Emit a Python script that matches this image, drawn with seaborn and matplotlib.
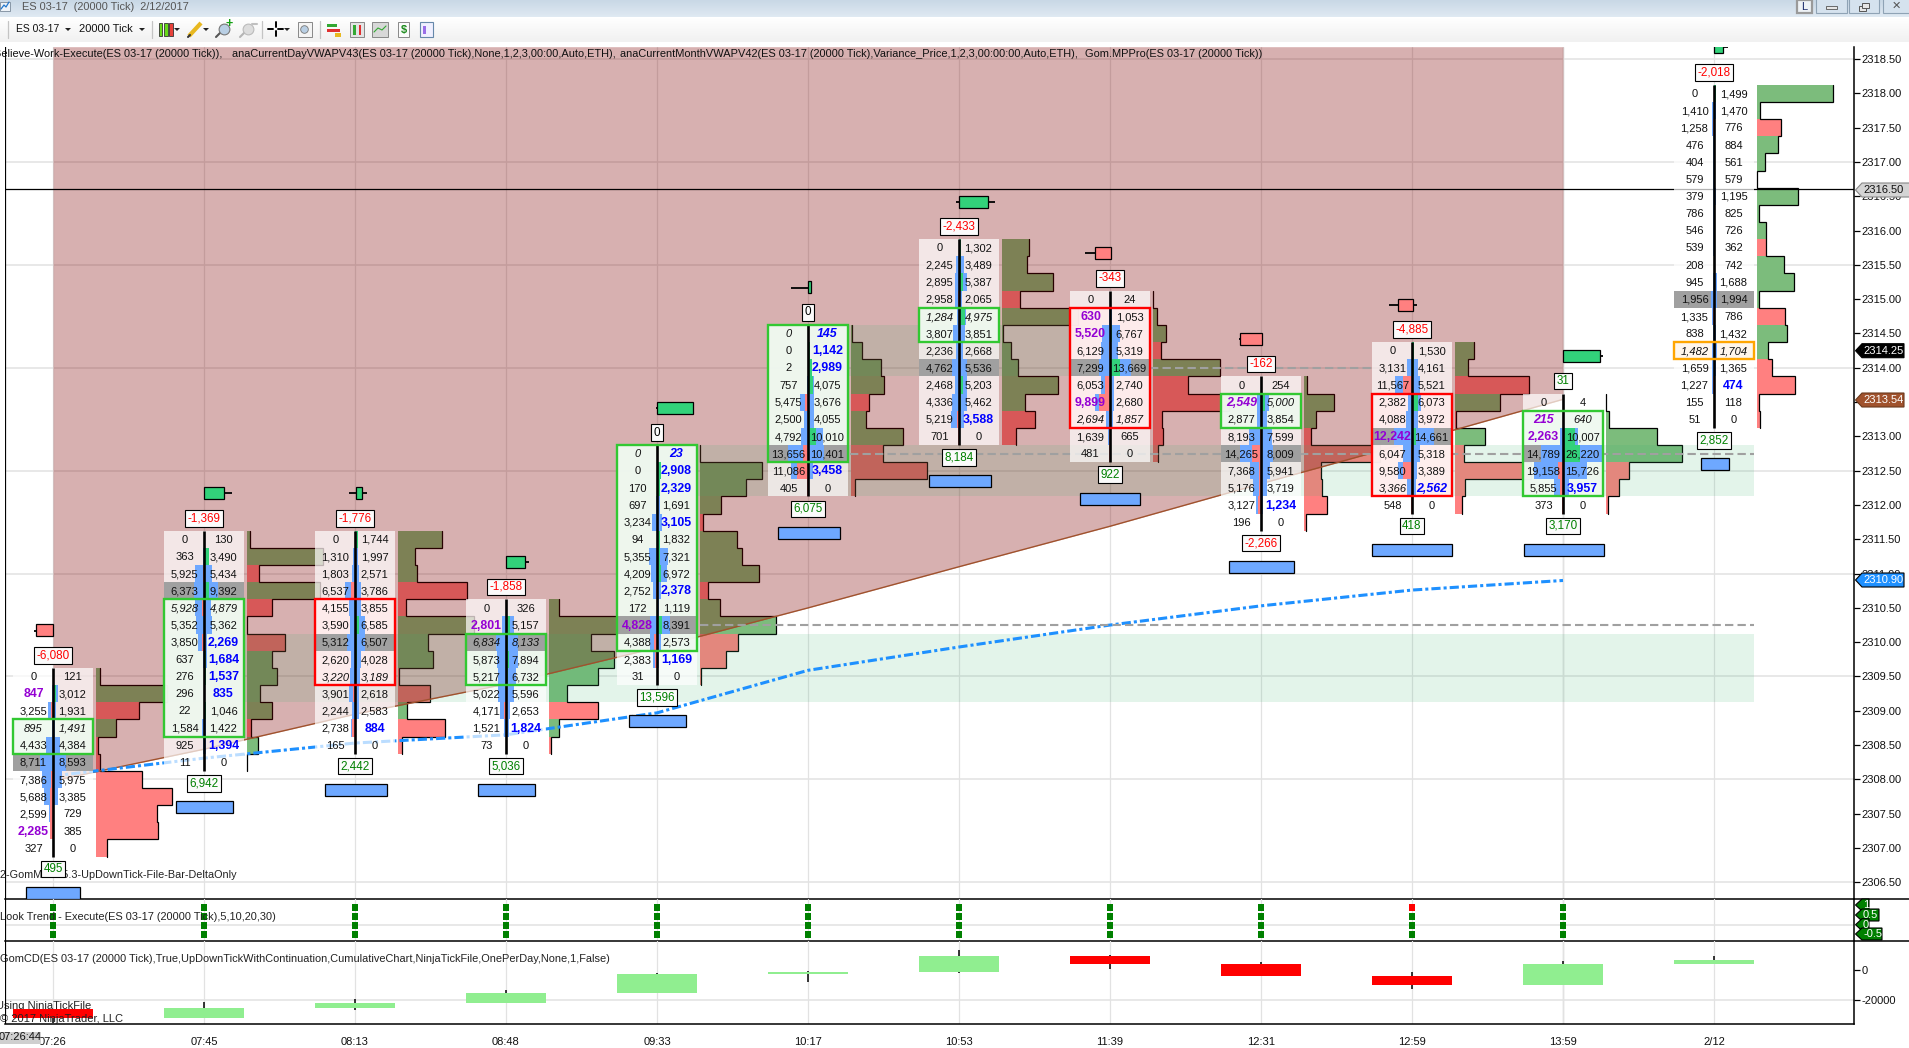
import numpy as np
import pandas as pd
import seaborn as sns
from matplotlib import pyplot as plt
from matplotlib.colors import LinearSegmentedColormap
from matplotlib.patches import Polygon, Rectangle

W, H = 1909, 1048

# bid / ask footprint rows of each 20000 tick bar, top row first
bar0_bid = [0, 847, 3255, 895, 4433, 8711, 7386, 5688, 2599, 2285, 327]
bar0_ask = [121, 3012, 1931, 1491, 4384, 8593, 5975, 3385, 729, 385, 0]
bar1_bid = [0, 363, 5925, 6373, 5928, 5352, 3850, 637, 276, 296, 22, 1584, 925, 11]
bar1_ask = [130, 3490, 5434, 9392, 4879, 5362, 2269, 1684, 1537, 835, 1046, 1422, 1394, 0]
bar2_bid = [0, 1310, 1803, 6537, 4155, 3590, 5312, 2620, 3220, 3901, 2244, 2738, 165]
bar2_ask = [1744, 1997, 2571, 3786, 3855, 6585, 6507, 4028, 3189, 2618, 2583, 884, 0]
bar3_bid = [0, 2801, 6834, 5873, 5217, 5022, 4171, 1521, 73]
bar3_ask = [326, 5157, 8133, 7894, 6732, 5596, 2653, 1824, 0]
bar4_bid = [0, 0, 170, 697, 3234, 94, 5355, 4209, 2752, 172, 4828, 4388, 2383, 31]
bar4_ask = [23, 2908, 2329, 1691, 3105, 1832, 7321, 6972, 2378, 1119, 8391, 2573, 1169, 0]
bar5_bid = [0, 0, 2, 757, 5475, 2500, 4792, 13656, 11086, 405]
bar5_ask = [145, 1142, 2989, 4075, 3676, 4055, 10010, 10401, 3458, 0]
bar6_bid = [0, 2245, 2895, 2958, 1284, 3807, 2236, 4762, 2468, 4336, 5219, 701]
bar6_ask = [1302, 3489, 5387, 2065, 4975, 3851, 2668, 5536, 5203, 5462, 3588, 0]
bar7_bid = [0, 630, 5520, 6129, 7299, 6053, 9899, 2694, 1639, 481]
bar7_ask = [24, 1053, 6767, 5319, 13669, 2740, 2680, 1857, 665, 0]
bar8_bid = [0, 2549, 2877, 8193, 14265, 7368, 5176, 3127, 196]
bar8_ask = [254, 5000, 3854, 7599, 8009, 5941, 3719, 1234, 0]
bar9_bid = [0, 3131, 11567, 2382, 4088, 12242, 6047, 9580, 3366, 548]
bar9_ask = [1530, 4161, 5521, 6073, 3972, 14661, 5318, 3389, 2562, 0]
bar10_bid = [0, 215, 2263, 14789, 19158, 5855, 373]
bar10_ask = [4, 640, 10007, 26220, 15726, 3957, 0]
bar11_bid = [0, 1410, 1258, 476, 404, 579, 379, 786, 546, 539, 208, 945, 1956, 1335, 838, 1482, 1659, 1227, 155, 51]
bar11_ask = [1499, 1470, 776, 884, 561, 579, 1195, 825, 726, 362, 742, 1688, 1994, 786, 1432, 1704, 1365, 474, 118, 0]

bids = [bar0_bid, bar1_bid, bar2_bid, bar3_bid, bar4_bid, bar5_bid, bar6_bid, bar7_bid, bar8_bid, bar9_bid, bar10_bid, bar11_bid]
asks = [bar0_ask, bar1_ask, bar2_ask, bar3_ask, bar4_ask, bar5_ask, bar6_ask, bar7_ask, bar8_ask, bar9_ask, bar10_ask, bar11_ask]

top_price = [2309.5, 2311.5, 2311.5, 2310.5, 2312.75, 2314.5, 2315.75, 2315.0, 2313.75, 2314.25, 2313.5, 2318.0]
time_labels = ['07:26', '07:45', '08:13', '08:48', '09:33', '10:17', '10:53', '11:39', '12:31', '12:59', '13:59', '2/12']

poc_row = [5, 3, 6, 2, 10, 7, 7, 4, 4, 5, 3, 12]
italic_row = [3, 4, 8, 2, 0, 0, 4, 7, 1, 8, 1, 15]
box_kind = ['g', 'g', 'r', 'g', 'g', 'g', 'g', 'r', 'g', 'r', 'g', 'o']
box_first = [3, 4, 4, 2, 0, 0, 4, 1, 1, 3, 1, 15]
box_last = [4, 11, 8, 4, 11, 7, 5, 7, 2, 8, 5, 15]
purple_bid = [[1, 9], [], [], [1], [10], [], [], [1, 2, 6], [1], [5], [1, 2], []]
blue_ask = [[], [6, 7, 8, 9, 12], [11], [7], [0, 1, 2, 4, 8, 12], [0, 1, 2, 8], [10], [], [7], [8], [5], [17]]

top_delta = ['-6,080', '-1,369', '-1,776', '-1,858', '0', '0', '-2,433', '-343', '-162', '-4,885', '31', '-2,018']
top_delta_color = ['red', 'red', 'red', 'red', 'black', 'black', 'red', 'red', 'red', 'red', 'green', 'red']
low_delta = ['495', '6,942', '2,442', '5,036', '13,596', '6,075', '8,184', '922', '-2,266', '418', '3,170', '2,852']
low_delta_color = ['green'] * 8 + ['red'] + ['green'] * 3

# small open/close marker above each bar, pixels from the bar centre
marker_up = [False, True, True, True, True, True, True, False, False, False, True, True]
marker_left = [-17, 0, 0.5, 0, 0, 0, 0.3, -14.7, -21.5, -14, 0, 0]
marker_right = [0.5, 20, 7.4, 18.5, 35.7, 3.4, 28.7, 0.7, 0.5, 0.7, 37, 9]
wick_left = [-19, 0, -6, 0, -1, -17, -3, -25, -22.5, -23.3, 0, 0]
wick_right = [0.5, 28, 12, 23, 35.7, 3.4, 36, 0.7, 1, 5, 40, 14]
# blue box under each bar
under_left = [-26.5, -28, -30.5, -28, -28, -30.5, -30.4, -29.6, -31.6, -40, -39.5, -13.3]
under_right = [27.4, 28.6, 31.5, 28.7, 28.7, 31.6, 31.6, 30.4, 32.7, 40, 40.6, 14.7]

vwap = [2308.05, 2308.31, 2308.53, 2308.65, 2308.97, 2309.59, 2309.93, 2310.25, 2310.53, 2310.76, 2310.90]
upper_band = [2307.98, 2308.44, 2308.95, 2309.39, 2309.92, 2310.50, 2311.10, 2311.69, 2312.31, 2312.92, 2313.54]

# cumulative delta candles
cd_open = [-25740, -31680, -25080, -21780, -15180, -2640, -1320, 9240, 3960, -3960, -9900, 3960]
cd_close = [-31680, -25080, -21780, -15180, -2640, -1320, 9240, 3960, -3960, -9900, 3960, 6600]
cd_high = [-25740, -21120, -19140, -13200, -1980, -660, 13200, 9900, 5280, -1320, 5940, 9240]
cd_low = [-35000, -31680, -26400, -21780, -15180, -7920, -1980, 660, -3960, -12540, -9900, 3960]

trend_levels = [1, 0.5, 0, -0.5]
trend_red_top_bar = 9

price_grid = [2318.5, 2317, 2315.5, 2314, 2312.5, 2311, 2309.5, 2308, 2306.5]

FS = 8.0
GREEN_HIST, RED_HIST = '#7cbc7c', '#ff8080'
BLUE_VOL = '#6ea8ff'
GRID = '#e2e2e2'

sns.set_theme(style='white')
plt.rcParams['font.family'] = ['Liberation Sans', 'DejaVu Sans']


def frame(left, top, right, bottom):
    return [left / W, 1 - bottom / H, (right - left) / W, (bottom - top) / H]


def to_bar(px_x):
    return (px_x - 53) / 151


def px(d):
    return d / 151


def y_price(y):
    return 2312 + (505 - y) / 68.6


ROW = 0.25
PX_Y = 1 / 68.6

fig = plt.figure(figsize=(W / 100, H / 100), dpi=100, facecolor='white')
ax = fig.add_axes(frame(4.5, 46.7, 1854, 899.3))
ax2 = fig.add_axes(frame(4.5, 899.3, 1854, 941.3))
ax3 = fig.add_axes(frame(4.5, 941.3, 1854, 1024.3))
over = fig.add_axes([0, 0, 1, 1], zorder=10)
over.patch.set_alpha(0)

xlim = (to_bar(4.5), to_bar(1854))
bars = np.arange(12)

# ---- main price panel
ax.set_xlim(*xlim)
ax.set_ylim(y_price(899.3), y_price(46.7))
for p in price_grid:
    ax.axhline(p, color=GRID, lw=1.1, zorder=0.5)

# delta profile on the right of each bar
for i in bars:
    bid = np.array(bids[i])
    ask = np.array(asks[i])
    prices = top_price[i] - ROW * np.arange(len(bid))
    delta = ask - bid
    widths = np.abs(delta) / np.abs(delta).max() * px(75.5)
    base = i + px(43)
    colors = [GREEN_HIST if d >= 0 else RED_HIST for d in delta]
    ax.barh(prices, widths, left=base, height=ROW, color=colors, lw=0, zorder=1)
    step_x = np.repeat(base + widths, 2)
    step_y = np.column_stack([prices + ROW / 2, prices - ROW / 2]).ravel()
    ax.plot(step_x, step_y, color='black', lw=0.9, zorder=1.1, solid_joinstyle='miter')

# value area bands and the band above the vwap
ax.fill_between(np.arange(11), upper_band, y_price(46.7), color='#800000', alpha=0.31, lw=0, zorder=2)
ax.plot(np.arange(11), upper_band, color='#a0522d', lw=1, zorder=2.1)
for left, right, top, low in [(to_bar(163), to_bar(1754), 2310.125, 2309.125),
                              (to_bar(630), to_bar(1754), 2312.875, 2312.125),
                              (to_bar(800), to_bar(1110), 2314.625, 2313.875)]:
    ax.add_patch(Rectangle((left, low), right - left, top - low, fc='#3cb371', alpha=0.14, lw=0, zorder=2))

for level, start, end in [(2310.25, 700, 1754), (2312.75, 850, 1754), (2314.0, 1150, 1372)]:
    ax.plot([to_bar(start), to_bar(end)], [level, level], color='#a0a0a0', lw=1.5, ls=(0, (4, 2)), zorder=2.5)

sns.lineplot(x=np.arange(11), y=vwap, ax=ax, color='#1e90ff', lw=2.2, zorder=2.2,
             linestyle=(0, (3, 1, 1, 1)), errorbar=None)

ax.axhline(y_price(189.3), color='black', lw=0.9, zorder=2.6)

box_edge = {'g': '#32c832', 'r': '#ff0000', 'o': '#ffa500'}
box_fill = {'g': '#eff9f0', 'r': '#ffeeee', 'o': '#fff6ec'}

for i in bars:
    bid = bids[i]
    ask = asks[i]
    n = len(bid)
    for r in range(n):
        p = top_price[i] - ROW * r
        fill, alpha = 'white', 0.7
        if box_first[i] <= r <= box_last[i]:
            fill, alpha = box_fill[box_kind[i]], 0.97
        if r == poc_row[i]:
            fill, alpha = '#a0a0a0', 1
        ax.barh(p, px(80), left=i - px(40), height=ROW, color=fill, alpha=alpha, lw=0, zorder=3)

        # volume around the bar centre, delta on top of it
        d = ask[r] - bid[r]
        ax.barh(p, -px(bid[r] * 0.0015), left=i, height=ROW, color=BLUE_VOL, lw=0, zorder=3.6)
        ax.barh(p, px(ask[r] * 0.0015), left=i, height=ROW, color=BLUE_VOL, lw=0, zorder=3.6)
        if d > 0:
            ax.barh(p, px(d * 0.0015), left=i, height=ROW, color='#32d27a', lw=0, zorder=3.7)
        elif d < 0:
            ax.barh(p, px(d * 0.0015), left=i, height=ROW, color=RED_HIST, lw=0, zorder=3.7)

        style = 'italic' if r == italic_row[i] else 'normal'
        is_purple = r in purple_bid[i]
        is_blue = r in blue_ask[i]
        ax.text(i - px(19.5), p - 0.01, f'{bid[r]:,}', ha='center', va='center', zorder=5, style=style,
                color='#9400d3' if is_purple else '#111111',
                fontsize=FS + 0.9 if is_purple else FS, fontweight='bold' if is_purple else 'normal')
        ax.text(i + px(19.5), p - 0.01, f'{ask[r]:,}', ha='center', va='center', zorder=5, style=style,
                color='#0000ff' if is_blue else '#111111',
                fontsize=FS + 0.9 if is_blue else FS, fontweight='bold' if is_blue else 'normal')

    top_edge = top_price[i] + ROW / 2
    low_edge = top_price[i] - ROW * (n - 1) - ROW / 2
    ax.plot([i, i], [low_edge, top_edge], color='black', lw=1.9, solid_capstyle='butt', zorder=4.5)

    # footprint box
    b_top = top_price[i] - ROW * box_first[i] + ROW / 2
    b_low = top_price[i] - ROW * box_last[i] - ROW / 2
    ax.add_patch(Rectangle((i - px(40), b_low), px(80), b_top - b_low, fc='none',
                           ec=box_edge[box_kind[i]], lw=1.7, zorder=4.8))

    # delta labels above and below
    lab = dict(boxstyle='square,pad=0.2', fc='#fbfbfb', ec='black', lw=0.8)
    ax.text(i, top_price[i] + 21 * PX_Y, top_delta[i], color=top_delta_color[i], fontsize=FS + 0.4, ha='center',
            va='center', bbox=lab, zorder=6)
    ax.text(i, top_price[i] - ROW * (n - 1) - 21 * PX_Y, low_delta[i], color=low_delta_color[i], fontsize=FS + 0.4,
            ha='center', va='center', bbox=lab, zorder=6)

    # blue box under the bar
    y_under = top_price[i] - ROW * (n - 1) - 45 * PX_Y
    ax.add_patch(Rectangle((i + px(under_left[i]), y_under - 6 * PX_Y), px(under_right[i] - under_left[i]), 12 * PX_Y,
                           fc=BLUE_VOL, ec='black', lw=0.9, zorder=6))

    # open/close marker above the bar
    y_mark = top_price[i] + 46 * PX_Y
    ax.plot([i + px(wick_left[i]), i + px(wick_right[i])], [y_mark, y_mark], color='black', lw=1.3,
            solid_capstyle='butt', zorder=5.9)
    ax.add_patch(Rectangle((i + px(marker_left[i]), y_mark - 6 * PX_Y), px(marker_right[i] - marker_left[i]), 12 * PX_Y,
                           fc='#32d27a' if marker_up[i] else RED_HIST, ec='black', lw=0.9, zorder=6))

# indicator caption, one piece per indicator so it lines up along its length
for x_start, piece in [(-6, 'Believe-Work-Execute(ES 03-17 (20000 Tick)),'),
                       (232.5, 'anaCurrentDayVWAPV43(ES 03-17 (20000 Tick),None,1,2,3,00:00,Auto,ETH),'),
                       (620, 'anaCurrentMonthVWAPV42(ES 03-17 (20000 Tick),Variance_Price,1,2,3,00:00:00,Auto,ETH),'),
                       (1085, 'Gom.MPPro(ES 03-17 (20000 Tick))')]:
    ax.text(to_bar(x_start), y_price(54), piece, fontsize=7.95, va='center', ha='left', color='#111111', zorder=5.5)
ax.text(to_bar(0), y_price(875), '2-GomMPro 5.3-UpDownTick-File-Bar-DeltaOnly', fontsize=7.85, va='center', ha='left',
        color='#222222', zorder=5.5)

ax.set_yticks(np.arange(2306.5, 2319, 0.5))
ax.set_yticklabels([f'{t:.2f}' for t in np.arange(2306.5, 2319, 0.5)])
ax.set_xticks(bars)
ax.set_xticklabels([])

# ---- trend dots panel
ax2.set_xlim(*xlim)
ax2.set_ylim((925.3 - 941.3) / 18, (925.3 - 899.3) / 18)
ax2.axhline(0, color=GRID, lw=1.1, zorder=0.5)
trend = pd.DataFrame([(b, v) for b in bars[:11] for v in trend_levels], columns=['bar', 'level'])
trend['up'] = ~((trend['bar'] == trend_red_top_bar) & (trend['level'] == 1))
sns.scatterplot(data=trend, x='bar', y='level', hue='up', palette={True: '#008000', False: '#ff0000'}, marker='s',
                s=22, linewidth=0, legend=False, ax=ax2, zorder=3)
ax2.text(to_bar(0), 0.45, 'Look Trend - Execute(ES 03-17 (20000 Tick),5,10,20,30)', fontsize=7.9, va='center', ha='left',
         color='#222222', zorder=4)
ax2.set_xlabel('')
ax2.set_ylabel('')
ax2.set_xticks(bars)
ax2.set_xticklabels([])
ax2.set_yticks([])

# ---- cumulative delta panel
ax3.set_xlim(*xlim)
ax3.set_ylim((970 - 1024.3) * 660, (970 - 941.3) * 660)
ax3.axhline(-20000, color=GRID, lw=1.1, zorder=0.5)
ax3.text(to_bar(-4), (970 - 1006) * 660, 'Using NinjaTickFile', fontsize=FS, va='center', ha='left', color='#222222', zorder=1)
ax3.vlines(bars, cd_low, cd_high, color='black', lw=1.1, zorder=2)
cd_colors = ['#90ee90' if c >= o else '#ff0000' for o, c in zip(cd_open, cd_close)]
ax3.bar(bars, np.array(cd_close) - np.array(cd_open), bottom=cd_open, width=px(80), color=cd_colors, lw=0, zorder=3)
ax3.text(to_bar(0), (970 - 1019) * 660, '© 2017 NinjaTrader, LLC', fontsize=FS, va='center', ha='left', color='#222222', zorder=4)
ax3.text(to_bar(0), (970 - 959) * 660,
         'GomCD(ES 03-17 (20000 Tick),True,UpDownTickWithContinuation,CumulativeChart,NinjaTickFile,OnePerDay,None,1,False)',
         fontsize=7.9, va='center', ha='left', color='#222222', zorder=4)
ax3.set_yticks([0, -20000])
ax3.set_yticklabels(['0', '-20000'])
ax3.set_xticks(bars)
ax3.set_xticklabels(time_labels)

for a in (ax, ax2, ax3):
    a.patch.set_alpha(0)
    a.yaxis.tick_right()
    a.grid(axis='x', color=GRID, lw=0.9, zorder=0.4)
    a.set_axisbelow(True)
    a.axvline(10, color='#bcbcbc', lw=0.9, zorder=0.45)
    a.axvline(xlim[0], color='black', lw=1.6, zorder=7)
    for s in ('top', 'left'):
        a.spines[s].set_visible(False)
    a.spines['right'].set_color('black')
    a.spines['right'].set_linewidth(1.1)
    a.spines['bottom'].set_color('black')
    a.spines['bottom'].set_linewidth(1.1)
    a.tick_params(axis='y', right=True, length=4.3, width=0.9, color='black', labelsize=FS, pad=1, labelcolor='#111111')
    a.tick_params(axis='x', bottom=False, labelsize=FS, pad=3.5, labelcolor='#111111')

# ---- window chrome, drawn in pixels
over.set_xlim(0, W)
over.set_ylim(H, 0)
over.axis('off')
over.imshow(np.linspace(0, 1, 17).reshape(-1, 1), extent=(0, W, 17, 0),
            cmap=LinearSegmentedColormap.from_list('t', ['#c9d8e6', '#dfe9f2']), aspect='auto', zorder=1)
over.imshow(np.linspace(0, 1, 25).reshape(-1, 1), extent=(0, W, 42, 17),
            cmap=LinearSegmentedColormap.from_list('b', ['#ffffff', '#f1f1f1']), aspect='auto', zorder=1)
over.set_xlim(0, W)
over.set_ylim(H, 0)

over.text(22, 6.5, 'ES 03-17  (20000 Tick)  2/12/2017', fontsize=7.9, color='#555555', va='center', zorder=3)
over.text(15.5, 29, 'ES 03-17', fontsize=7.5, color='#111111', va='center', zorder=3)
over.text(79, 29, '20000 Tick', fontsize=8.0, color='#111111', va='center', zorder=3)


def arrow(x):
    over.add_patch(Polygon([(x - 3, 28), (x + 3, 28), (x, 31)], fc='#222222', lw=0, zorder=3))


def sep(x):
    over.plot([x, x], [21, 38], color='#c4c4c4', lw=0.9, zorder=3)


def box(x0, y0, x1, y1, fc, ec='none', lw=0.0, z=3):
    over.add_patch(Rectangle((x0, y0), x1 - x0, y1 - y0, fc=fc, ec=ec, lw=lw, zorder=z))


for x in (68, 142, 177, 206, 287):
    arrow(x)
for x in (7.5, 152, 262, 320):
    sep(x)
# candle icon
box(158.5, 23, 162, 36, '#66d919', '#333333', 0.6)
box(164, 23, 167.5, 36, '#66d919', '#333333', 0.6)
box(169, 23, 172.5, 36, '#e8413a', '#333333', 0.6)
# pencil
over.plot([189, 201], [36, 23], color='#e8b820', lw=3, solid_capstyle='butt', zorder=3)
over.plot([188, 190], [37, 35], color='#333333', lw=1.5, zorder=3)
# magnifiers
over.plot([216, 221], [37, 32], color='#555555', lw=1.5, zorder=3)
over.scatter([224], [29], s=60, c='#b9cfe4', edgecolors='#777777', linewidths=0.8, zorder=3)
over.text(229, 24, '+', fontsize=9, color='#12a012', fontweight='bold', ha='center', va='center', zorder=4)
over.plot([240, 245], [37, 32], color='#b5b5b5', lw=1.5, zorder=3)
over.scatter([248], [29], s=60, c='#dddddd', edgecolors='#bbbbbb', linewidths=0.8, zorder=3)
over.plot([252, 257], [24, 24], color='#c0c0c0', lw=1.5, zorder=3)
# crosshair
for seg in ([(268, 29), (273, 29)], [(278, 29), (283, 29)], [(275.5, 22), (275.5, 27)], [(275.5, 31), (275.5, 36)]):
    over.plot(*zip(*seg), color='black', lw=1.4, zorder=3)
# page tools
box(298, 22, 312, 37, '#f4f4f4', '#888888', 0.7)
over.scatter([304], [29], s=30, c='#b9cfe4', edgecolors='#777777', linewidths=0.6, zorder=4)
box(327, 24, 337, 27, '#33a833')
box(327, 29, 340, 32, '#e03030')
box(335, 33, 341, 37, '#e8b820')
box(350, 22, 364, 37, '#e4e4e4', '#888888', 0.7)
box(353, 25, 355.5, 35, '#33a833')
box(358.5, 25, 361, 35, '#e03030')
box(372, 22, 388, 37, '#d8d8d8', '#888888', 0.7)
over.plot([374, 378, 382, 386], [32, 28, 30, 26], color='#33a833', lw=0.8, zorder=4)
box(398, 22, 409, 37, '#fbfbfb', '#888888', 0.7)
over.text(403.5, 30, '$', fontsize=8, color='#1b8a1b', fontweight='bold', ha='center', va='center', zorder=4)
box(420, 22, 433, 37, '#f0f0ff', '#6688aa', 0.8)
box(423, 26, 426, 34, '#9a6ee8')
# title icon
box(0, 2, 10, 11, '#eef3f8', '#7a8a9a', 0.6)
over.plot([1, 4, 6, 9], [9, 5, 7, 2], color='#2277cc', lw=0.9, zorder=4)
# window buttons
box(1796.5, 0, 1811.5, 13, '#eef2f6', '#9a9a9a', 1.6)
over.text(1804, 6.5, 'L', fontsize=8, color='#1a2a6a', ha='center', va='center', zorder=4)
for x0, x1 in [(1816, 1847), (1849, 1879), (1883, 1912)]:
    box(x0, -2, x1, 13, '#d5e2ee', '#8fa3b5', 0.8)
box(1826, 6, 1837, 9, '#e6e6e6', '#555555', 0.6, 4)
box(1859, 6, 1866, 11, '#e6e6e6', '#555555', 0.7, 4)
box(1862, 3, 1869, 8, '#e6e6e6', '#555555', 0.7, 4)
over.text(1896, 6, '✕', fontsize=8, family='DejaVu Sans', color='#555555', ha='center', va='center', zorder=4)

# panel dividers running on under the price scale
for y in (899.3, 941.3):
    over.plot([1854, W], [y, y], color='black', lw=1.1, zorder=3)


def tag(y, right, text, fc, tc, ec='black', fs=FS, h=7):
    over.add_patch(Polygon([(1855.5, y), (1862, y - h), (right, y - h), (right, y + h), (1862, y + h)],
                           fc=fc, ec=ec, lw=0.8, zorder=5))
    over.text(1863, y, text, color=tc, fontsize=fs, va='center', ha='left', zorder=6)


tag(190, 1912, '2316.50', '#d4d4d4', '#111111', ec='#888888')
tag(400, 1904, '2313.54', '#a0522d', 'white', ec='#6b3a1e')
tag(350.7, 1904, '2314.25', 'black', 'white')
tag(580, 1904, '2310.90', '#1e90ff', 'white')
tag(905, 1869, '1', '#008000', 'white', h=6)
tag(915, 1879, '0.5', '#008000', 'white', h=6)
tag(924.7, 1869, '0', '#008000', 'white', h=6)
tag(934, 1882, '-0.5', '#008000', 'white', h=6)

box(0, 1032, 41, 1044, '#cfcfcf')
over.text(20, 1037.5, '07:26:44', fontsize=FS, color='#111111', ha='center', va='center', zorder=4)

fig.savefig('out.png', dpi=100)
